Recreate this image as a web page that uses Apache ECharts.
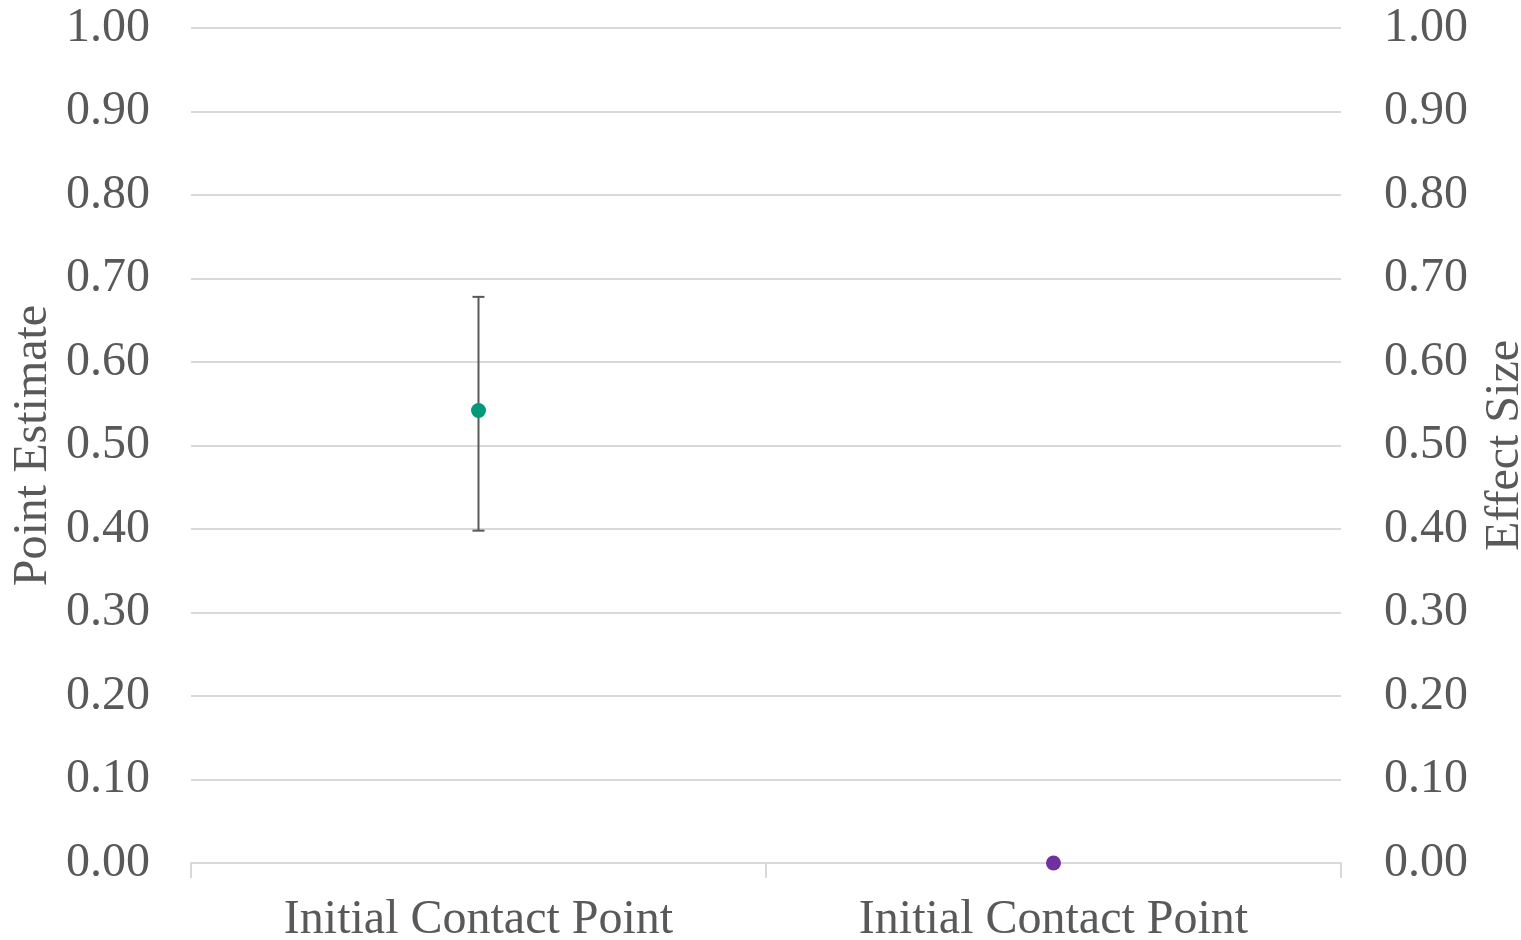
<!DOCTYPE html>
<html>
<head>
<meta charset="utf-8">
<script src="https://cdn.jsdelivr.net/npm/echarts@6/dist/echarts.min.js"></script>
<style>html,body{margin:0;padding:0;background:#fff}#c{width:1521px;height:940px}</style>
</head>
<body>
<div id="c"></div>
<script>
const categories = ['Initial Contact Point', 'Initial Contact Point'];
const pointEstimate = [0.542, null];
const ciLower = [0.398, null];
const ciUpper = [0.678, null];
const effectSize = [null, 0.0];
const yTicks = { min: 0, max: 1, interval: 0.1 };

const font = 'Liberation Serif';
const textColor = '#595959';
const gridColor = '#d9d9d9';

const errData = categories.map((c, i) => [i, ciLower[i], ciUpper[i]]).filter(d => d[1] != null);

const chart = echarts.init(document.getElementById('c'));
chart.setOption({
  animation: false,
  grid: { left: 191, right: 180, top: 28, bottom: 77, outerBoundsMode: 'none', containLabel: false },
  xAxis: {
    type: 'category',
    data: categories,
    boundaryGap: true,
    axisLine: { show: true, lineStyle: { color: gridColor, width: 2 } },
    axisTick: { show: true, length: 15, lineStyle: { color: gridColor, width: 2 } },
    axisLabel: { color: textColor, fontFamily: font, fontSize: 48, margin: 33 }
  },
  yAxis: [
    {
      type: 'value', min: yTicks.min, max: yTicks.max, interval: yTicks.interval,
      name: 'Point Estimate', nameLocation: 'middle', nameGap: 134, nameMoveOverlap: false,
      nameTextStyle: { color: textColor, fontFamily: font, fontSize: 48 },
      axisLine: { show: false }, axisTick: { show: false },
      axisLabel: { color: textColor, fontFamily: font, fontSize: 48, margin: 41, formatter: v => v.toFixed(2) },
      splitLine: { show: true, lineStyle: { color: gridColor, width: 2 } }
    },
    {
      type: 'value', min: yTicks.min, max: yTicks.max, interval: yTicks.interval,
      name: 'Effect Size', nameLocation: 'middle', nameGap: 140,
      nameTextStyle: { color: textColor, fontFamily: font, fontSize: 48 },
      axisLine: { show: false }, axisTick: { show: false },
      axisLabel: { color: textColor, fontFamily: font, fontSize: 48, margin: 43, formatter: v => v.toFixed(2) },
      splitLine: { show: false }
    }
  ],
  series: [
    {
      type: 'custom', yAxisIndex: 0, z: 2,
      data: errData,
      renderItem: (params, api) => {
        const x = api.value(0);
        const lo = api.coord([x, api.value(1)]);
        const hi = api.coord([x, api.value(2)]);
        const w = 6;
        const style = { stroke: '#595959', lineWidth: 2 };
        return {
          type: 'group',
          children: [
            { type: 'line', shape: { x1: lo[0], y1: lo[1], x2: hi[0], y2: hi[1] }, style },
            { type: 'line', shape: { x1: hi[0] - w, y1: hi[1], x2: hi[0] + w, y2: hi[1] }, style },
            { type: 'line', shape: { x1: lo[0] - w, y1: lo[1], x2: lo[0] + w, y2: lo[1] }, style }
          ]
        };
      }
    },
    {
      name: 'Point Estimate', type: 'scatter', yAxisIndex: 0, z: 3,
      data: pointEstimate, symbol: 'circle', symbolSize: 15,
      itemStyle: { color: '#00997a', opacity: 1 }
    },
    {
      name: 'Effect Size', type: 'scatter', yAxisIndex: 1, z: 3,
      data: effectSize, symbol: 'circle', symbolSize: 15,
      itemStyle: { color: '#7030a0', opacity: 1 }
    }
  ]
});
</script>
</body>
</html>
